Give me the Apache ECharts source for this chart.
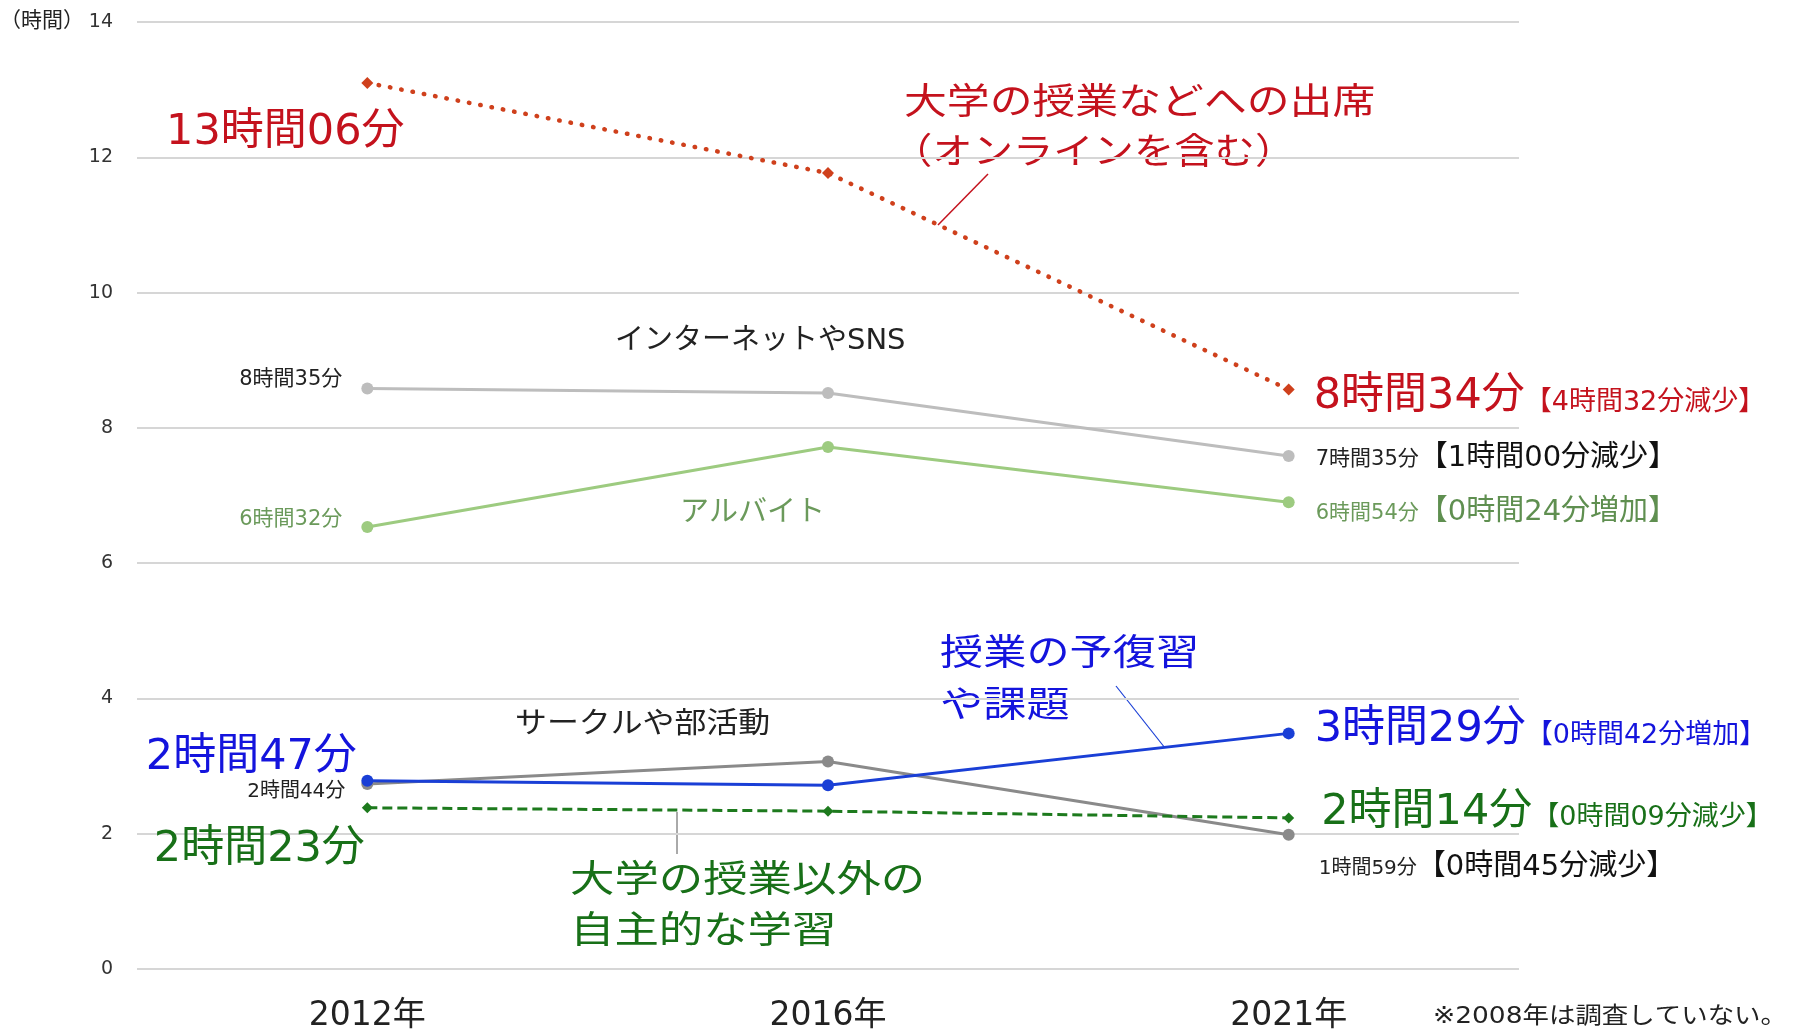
<!DOCTYPE html>
<html>
<head>
<meta charset="utf-8">
<script src="https://cdn.jsdelivr.net/npm/echarts@6/dist/echarts.min.js"></script>
<style>
  html, body { margin: 0; padding: 0; background: #fff; }
  #chart { width: 1798px; height: 1031px; }
</style>
</head>
<body>
<div id="chart"></div>
<script>
// 大学生の1週間あたりの平均時間（分）
const years = ['2012年', '2016年', '2021年'];
const attendMin = [786, 706, 514];   // 大学の授業などへの出席（オンラインを含む）
const netMin    = [515, 511, 455];   // インターネットやSNS
const jobMin    = [392, 463, 414];   // アルバイト
const prepMin   = [167, 163, 209];   // 授業の予復習や課題
const clubMin   = [164, 184, 119];   // サークルや部活動
const selfMin   = [143, 140, 134];   // 大学の授業以外の自主的な学習

// 2012年→2021年の変化
const attendChange = '4時間32分減少';
const netChange    = '1時間00分減少';
const jobChange    = '0時間24分増加';
const prepChange   = '0時間42分増加';
const clubChange   = '0時間45分減少';
const selfChange   = '0時間09分減少';

const yTicks = [0, 2, 4, 6, 8, 10, 12, 14];

const FONT = '"DejaVu Sans", "Noto Sans CJK JP", sans-serif';

function hm(m) {
  return Math.floor(m / 60) + '時間' + String(m % 60).padStart(2, '0') + '分';
}

// 値ラベルを先頭・末尾の点にだけ付ける
function buildData(mins, startLabel, endLabel, change) {
  return mins.map((m, i) => {
    const item = { value: m / 60 };
    if (i === 0 && startLabel) {
      item.label = Object.assign({ show: true, fontFamily: FONT, formatter: hm(m) }, startLabel);
    } else if (i === mins.length - 1 && endLabel) {
      item.label = {
        show: true,
        position: 'right',
        distance: endLabel.distance,
        offset: endLabel.offset,
        fontFamily: FONT,
        formatter: '{v|' + hm(m) + '}{c|【' + change + '】}',
        rich: {
          v: { fontFamily: FONT, fontSize: endLabel.vSize, color: endLabel.vColor, verticalAlign: 'bottom', lineHeight: 50 },
          c: { fontFamily: FONT, fontSize: endLabel.cSize, color: endLabel.cColor, verticalAlign: 'bottom', lineHeight: 50, padding: [0, 0, endLabel.cPad || 0, 0] }
        }
      };
    } else {
      item.label = { show: false };
    }
    return item;
  });
}

// 横長の注記テキスト
function note(text, left, top, size, color, sx) {
  return {
    type: 'text', left: left, top: top, scaleX: sx || 1,
    style: { text: text, font: size + 'px ' + FONT, fill: color }
  };
}

const chart = echarts.init(document.getElementById('chart'), null, { renderer: 'canvas' });

const option = {
  backgroundColor: '#ffffff',
  animation: false,
  textStyle: { fontFamily: FONT },
  grid: { left: 137, right: 279, top: 22, bottom: 62, containLabel: false, outerBoundsMode: 'none' },
  xAxis: {
    type: 'category',
    data: years,
    boundaryGap: true,
    axisLine: { show: false },
    axisTick: { show: false },
    axisLabel: { fontSize: 33, color: '#222', margin: 31, fontFamily: FONT }
  },
  yAxis: {
    type: 'value',
    min: yTicks[0],
    max: yTicks[yTicks.length - 1],
    interval: 2,
    axisLine: { show: false },
    axisTick: { show: false },
    axisLabel: { fontSize: 19, color: '#333', margin: 24, fontFamily: FONT },
    splitLine: { lineStyle: { color: '#d6d6d6', width: 2 } }
  },
  series: [
    {
      name: 'インターネットやSNS',
      type: 'line',
      z: 3,
      symbol: 'circle', symbolSize: 12,
      lineStyle: { color: '#bdbdbd', width: 3 },
      itemStyle: { color: '#bdbdbd' },
      data: buildData(netMin,
        { position: 'left', distance: 19, offset: [0, -9], fontSize: 21, color: '#222' },
        { distance: 21, offset: [0, -11], vSize: 21, vColor: '#222', cSize: 29, cColor: '#111', cPad: -3 },
        netChange)
    },
    {
      name: 'アルバイト',
      type: 'line',
      z: 3,
      symbol: 'circle', symbolSize: 12,
      lineStyle: { color: '#9dcb80', width: 3 },
      itemStyle: { color: '#9dcb80' },
      data: buildData(jobMin,
        { position: 'left', distance: 19, offset: [0, -8], fontSize: 21, color: '#6b9a5b' },
        { distance: 21, offset: [0, -3], vSize: 21, vColor: '#6b9a5b', cSize: 29, cColor: '#5f8f50', cPad: -3 },
        jobChange)
    },
    {
      name: 'サークルや部活動',
      type: 'line',
      z: 3,
      symbol: 'circle', symbolSize: 12,
      lineStyle: { color: '#8a8a8a', width: 3 },
      itemStyle: { color: '#8a8a8a' },
      data: buildData(clubMin,
        { position: 'left', distance: 16, offset: [0, 8], fontSize: 20, color: '#222' },
        { distance: 24, offset: [0, 19], vSize: 20, vColor: '#222', cSize: 29, cColor: '#111', cPad: -3 },
        clubChange)
    },
    {
      name: '授業の予復習や課題',
      type: 'line',
      z: 4,
      symbol: 'circle', symbolSize: 12,
      lineStyle: { color: '#1a3fd6', width: 3 },
      itemStyle: { color: '#1a3fd6' },
      data: buildData(prepMin,
        { position: 'inside', offset: [-116, -23], fontSize: 43, color: '#1414dd' },
        { distance: 20, offset: [0, -7], vSize: 43, vColor: '#1414dd', cSize: 27, cColor: '#1414dd', cPad: 2 },
        prepChange)
    },
    {
      name: '大学の授業以外の自主的な学習',
      type: 'line',
      z: 4,
      symbol: 'diamond', symbolSize: 11,
      lineStyle: { color: '#1d7a1d', width: 3, type: [10, 5] },
      itemStyle: { color: '#1d7a1d' },
      data: buildData(selfMin,
        { position: 'inside', offset: [-108, 42], fontSize: 43, color: '#187018' },
        { distance: 27, offset: [0, -9], vSize: 43, vColor: '#187018', cSize: 27, cColor: '#187018', cPad: 2 },
        selfChange)
    },
    {
      name: '大学の授業などへの出席（オンラインを含む）',
      type: 'line',
      z: 5,
      symbol: 'diamond', symbolSize: 12,
      lineStyle: { color: '#cf401c', width: 4.5, type: [0.5, 11], cap: 'round' },
      itemStyle: { color: '#cf401c' },
      data: buildData(attendMin,
        { position: 'inside', offset: [-82, 50], fontSize: 43, color: '#c4121d' },
        { distance: 19, offset: [0, 4], vSize: 43, vColor: '#c4121d', cSize: 27, cColor: '#c4121d', cPad: 2 },
        attendChange)
    }
  ],
  graphic: [
    note('（時間）', 0, 11, 21, '#222', 1),
    // 系列名
    note('大学の授業などへの出席', 904, 87, 36, '#c4121d', 1.19),
    note('（オンラインを含む）', 892, 137, 36, '#c4121d', 1.12),
    { type: 'line', shape: { x1: 988, y1: 174, x2: 938, y2: 225 }, style: { stroke: '#c4121d', lineWidth: 1.5 } },
    note('インターネットやSNS', 615, 327, 29, '#222', 1.0),
    note('アルバイト', 680, 499, 29, '#6b9a5b', 1.0),
    note('サークルや部活動', 515, 711, 29, '#222', 1.1),
    note('授業の予復習', 940, 638, 36, '#1414dd', 1.2),
    note('や課題', 940, 690, 36, '#1414dd', 1.2),
    { type: 'line', shape: { x1: 1116, y1: 686, x2: 1165, y2: 748 }, style: { stroke: '#1a3fd6', lineWidth: 1.2 } },
    note('大学の授業以外の', 570, 864, 37, '#187018', 1.2),
    note('自主的な学習', 570, 915, 37, '#187018', 1.2),
    { type: 'line', shape: { x1: 677, y1: 812, x2: 677, y2: 854 }, style: { stroke: '#555', lineWidth: 1 } },
    note('※2008年は調査していない。', 1433, 1006, 23, '#222', 1.15)
  ]
};

chart.setOption(option);
</script>
</body>
</html>
